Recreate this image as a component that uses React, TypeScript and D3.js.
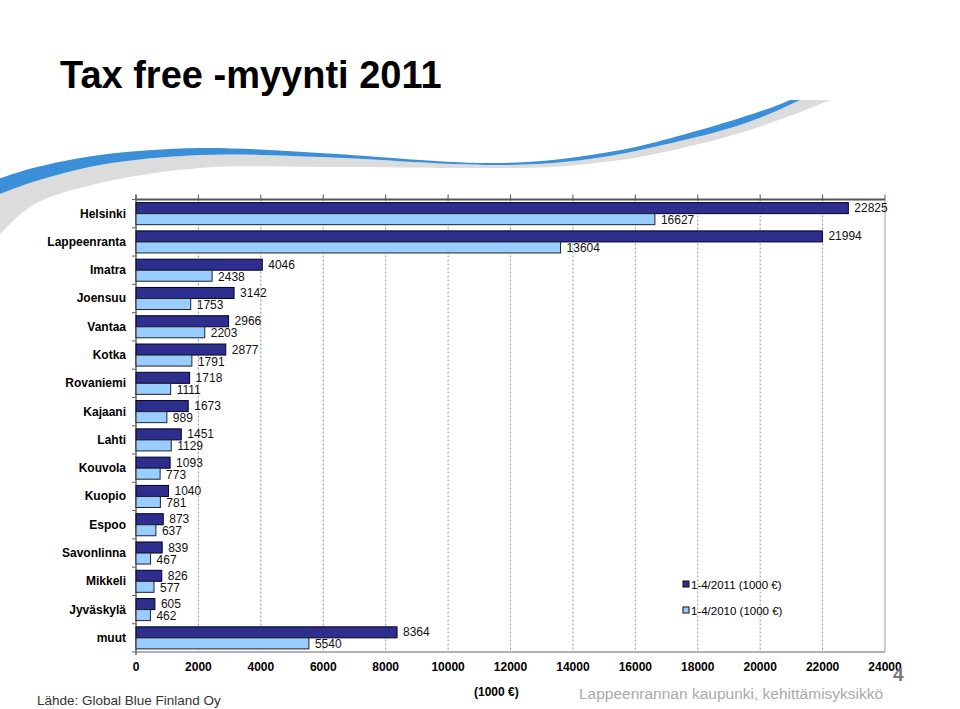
import React from "react";
import * as d3 from "d3";

const categories = ["Helsinki","Lappeenranta","Imatra","Joensuu","Vantaa","Kotka","Rovaniemi","Kajaani","Lahti","Kouvola","Kuopio","Espoo","Savonlinna","Mikkeli","Jyväskylä","muut"];
const values2011 = [22825,21994,4046,3142,2966,2877,1718,1673,1451,1093,1040,873,839,826,605,8364];
const values2010 = [16627,13604,2438,1753,2203,1791,1111,989,1129,773,781,637,467,577,462,5540];
const seriesNames = ["1-4/2011 (1000 €)", "1-4/2010 (1000 €)"];
const xTicks = [0,2000,4000,6000,8000,10000,12000,14000,16000,18000,20000,22000,24000];

const W = 960, H = 709;
const FONT = "'Liberation Sans', Arial, sans-serif";
const DARK = "#2E2E8F";
const LIGHT = "#99CCFF";

export default function App() {
  const left = 136, right = 885, top = 199.5, bottom = 652;
  const x = d3.scaleLinear().domain([0, 24000]).range([left, right]);
  const y = d3.scaleBand().domain(categories).range([top, bottom]).paddingInner(0.22).paddingOuter(0.11);
  const sub = d3.scaleBand().domain(["a", "b"]).range([0, y.bandwidth()]);
  const step = y.step();

  // decorative swoosh
  const line = d3.line().curve(d3.curveCatmullRom.alpha(0.5));
  const blueTop: [number, number][] = [[-5,180],[33,168],[100,155],[200,148],[320,153],[453,162],[500,163],[553,160],[603,153],[640,146],[740,118],[790,100],[815,86]];
  const blueBot: [number, number][] = [[-5,196],[33,182],[100,165],[200,155],[320,157],[453,164],[500,165],[553,163],[603,157],[640,150],[740,125],[800,100],[825,86]];
  const grayBot: [number, number][] = [[-5,240],[33,205],[100,183],[200,168],[320,167],[453,168],[500,168],[553,167],[603,162],[640,157],[740,133],[830,100],[858,86]];
  const join = (a: [number, number][], b: [number, number][]) =>
    line(a) + "L" + line(b.slice().reverse())!.slice(1) + "Z";
  const bluePath = join(blueTop, blueBot);
  const grayPath = join(blueBot, grayBot);

  return (
    <svg width={W} height={H} style={{ position: "absolute", left: 0, top: 0, background: "#fff" }} fontFamily={FONT}>
      <defs>
        <clipPath id="swclip"><rect x={0} y={100} width={W} height={200} /></clipPath>
      </defs>
      <rect width={W} height={H} fill="#fff" />
      <g clipPath="url(#swclip)">
        <path d={grayPath} fill="#dcdcdc" />
        <path d={bluePath} fill="#3b8fd9" />
      </g>
      <text x={60} y={88} fontSize={38} fontWeight="bold" fill="#000">Tax free -myynti 2011</text>

      {/* gridlines */}
      {xTicks.slice(1, -1).map(t => (
        <line key={"g" + t} x1={x(t)} x2={x(t)} y1={top} y2={bottom} stroke="#777" strokeWidth={0.8} strokeDasharray="2,2" />
      ))}
      <line x1={right} x2={right} y1={top} y2={bottom} stroke="#999" strokeWidth={1} />
      <line x1={left} x2={right} y1={bottom} y2={bottom} stroke="#999" strokeWidth={1.5} />
      {/* top axis */}
      <line x1={left} x2={right} y1={top} y2={top} stroke="#555" strokeWidth={2} />
      {xTicks.map(t => (
        <line key={"t" + t} x1={x(t)} x2={x(t)} y1={top - 5} y2={top} stroke="#555" strokeWidth={1} />
      ))}
      {/* left axis */}
      <line x1={left} x2={left} y1={top - 5} y2={bottom + 3} stroke="#666" strokeWidth={1.5} />
      {categories.map((c, i) => (
        <line key={"lt" + c} x1={left - 4} x2={left} y1={top + i * step} y2={top + i * step} stroke="#666" />
      ))}
      <line x1={left - 4} x2={left} y1={bottom} y2={bottom} stroke="#666" />

      {categories.map((c, i) => {
        const y0 = y(c)!;
        const cy = y0 + y.bandwidth() / 2;
        const ya = y0 + sub("a")!;
        const yb = y0 + sub("b")!;
        const bh = sub.bandwidth();
        return (
          <g key={c}>
            <text x={126} y={cy + 4} textAnchor="end" fontSize={12} fontWeight="bold" fill="#000">{c}</text>
            <rect x={x(0)} y={ya} width={x(values2011[i]) - x(0)} height={bh} fill={DARK} stroke="#000022" strokeWidth={1} />
            <rect x={x(0)} y={yb} width={x(values2010[i]) - x(0)} height={bh} fill={LIGHT} stroke="#222" strokeWidth={1} />
            <text x={x(values2011[i]) + 6} y={ya + bh / 2 + 4} fontSize={12} fill="#111">{values2011[i]}</text>
            <text x={x(values2010[i]) + 6} y={yb + bh / 2 + 5} fontSize={12} fill="#111">{values2010[i]}</text>
          </g>
        );
      })}

      {xTicks.map(t => (
        <text key={"xl" + t} x={x(t)} y={671} textAnchor="middle" fontSize={12} fontWeight="bold" fill="#000">{t}</text>
      ))}

      {/* legend */}
      {seriesNames.map((s, i) => (
        <g key={s}>
          <rect x={683} y={581 + i * 26} width={6} height={6} fill={i === 0 ? DARK : LIGHT} stroke="#111" strokeWidth={1} />
          <text x={691} y={589 + i * 26} fontSize={11.5} fill="#000">{s}</text>
        </g>
      ))}

      <text x={474} y={696} fontSize={12} fontWeight="bold" fill="#000">(1000 €)</text>
      <text x={37} y={705} fontSize={13.5} fill="#333">Lähde: Global Blue Finland Oy</text>
      <text x={579} y={699} fontSize={15.5} fill="#aaa">Lappeenrannan kaupunki, kehittämisyksikkö</text>
      <text x={893} y={681} fontSize={19} fontWeight="bold" fill="#777">4</text>
    </svg>
  );
}
